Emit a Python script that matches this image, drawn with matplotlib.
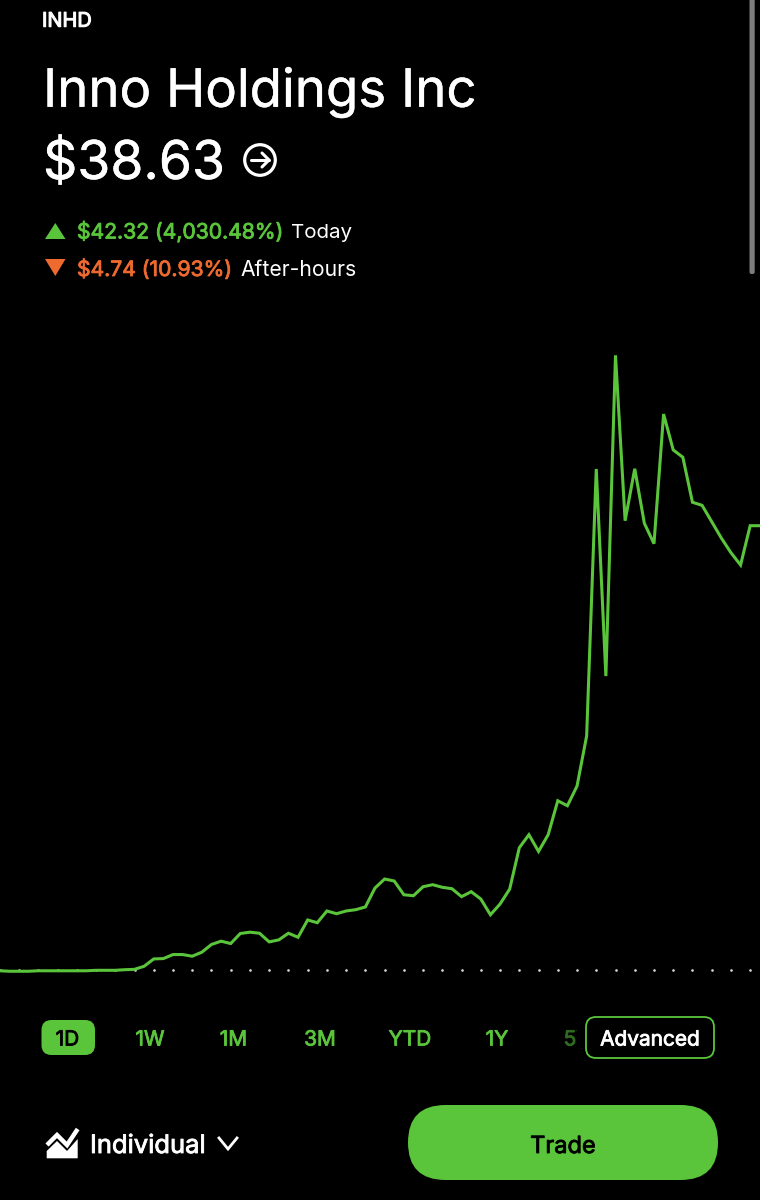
import matplotlib
matplotlib.use("Agg")
import matplotlib.pyplot as plt
from matplotlib.patches import FancyBboxPatch, Polygon, Circle, Rectangle
import matplotlib.patheffects as pe
import numpy as np

# ---- data ----
ticker = "INHD"
company = "Inno Holdings Inc"
price_label = "$38.63"
today_change = "$42.32 (4,030.48%)"
today_label = "Today"
after_change = "$4.74 (10.93%)"
after_label = "After-hours"
ranges = ["1W", "1M", "3M", "YTD", "1Y"]
active_range = "1D"
clipped_range = "5Y"
account = "Individual"
prev_close = 1.05
prices = [
    1.01, 0.97, 0.97, 0.97, 1.01, 1.01, 1.01, 1.01, 1.01, 1.01, 1.05, 1.05, 1.05, 1.10,
    1.13, 1.39, 2.01, 2.04, 2.38, 2.38, 2.24, 2.58, 3.23, 3.51, 3.31, 4.16, 4.27, 4.18,
    3.45, 3.62, 4.18, 3.84, 5.30, 5.07, 6.06, 5.83, 6.06, 6.17, 6.40, 8.00, 8.76, 8.59,
    7.43, 7.35, 8.11, 8.28, 8.06, 7.94, 7.27, 7.69, 7.07, 5.74, 6.65, 7.91, 11.40, 12.50,
    11.09, 12.50, 15.37, 14.95, 16.61, 20.84, 43.39, 25.90, 52.99, 39.02, 43.41, 38.80,
    37.08, 48.03, 45.00, 44.38, 40.58, 40.32, 38.94, 37.56, 36.32, 35.28, 38.60, 38.60,
]

GREEN = "#5AC53B"
ORANGE = "#EE6A2F"
FONT = "Inter"
plt.rcParams["font.family"] = [FONT, "DejaVu Sans"]

W, H = 760, 1200
fig = plt.figure(figsize=(W / 100, H / 100), dpi=100, facecolor="black")

# ---- price chart ----
top, bottom = 340, 985
ax = fig.add_axes([0, 1 - bottom / H, 1, (bottom - top) / H], facecolor="black")
ax.set_axis_off()
px_per_dollar = 11.84
base_px = 970.3
ax.set_ylim(prev_close - (bottom - base_px) / px_per_dollar,
            prev_close + (base_px - top) / px_per_dollar)
step = 9.62
first = 134.5 - 14 * step
ax.set_xlim(-first / step, (W - first) / step)
idx = np.arange(len(prices))
ax.plot(idx[::2], [prev_close] * len(idx[::2]), ls="none", marker="o", ms=1.9,
        color="#d8d8d8", mew=0, zorder=1)
ax.plot(idx, prices, color=GREEN, lw=2.2, solid_joinstyle="miter", zorder=2)

# ---- interface layer in pixel coordinates ----
ui = fig.add_axes([0, 0, 1, 1], facecolor="none")
ui.set_axis_off()
ui.set_xlim(0, W)
ui.set_ylim(H, 0)


def label(x, y, s, size, color="white", bold=0.0, ha="left", zorder=3):
    t = ui.text(x, y, s, fontsize=size, color=color, ha=ha, va="baseline", zorder=zorder)
    if bold:
        t.set_path_effects([pe.withStroke(linewidth=bold, foreground=color)])
    return t


label(42, 26.7, ticker, 14.4, bold=0.8)
label(43, 106.7, company, 38, bold=0.3)
label(43, 179, price_label, 38.5, bold=0.3)
ui.add_patch(Circle((260, 160), 15.3, fc="none", ec="white", lw=2.3))
ui.plot([251, 269], [160, 160], color="white", lw=2.2, solid_capstyle="round")
ui.plot([262, 269, 262], [153, 160, 167], color="white", lw=2.2, solid_capstyle="round",
        solid_joinstyle="round")

ui.add_patch(Polygon([(45, 239), (65.5, 239), (55.3, 223)], fc=GREEN, ec="none"))
label(77, 238.5, today_change, 15.2, GREEN, bold=0.6)
label(291.5, 238.5, today_label, 14.8)
ui.add_patch(Polygon([(45, 259), (65.5, 259), (55.3, 276)], fc=ORANGE, ec="none"))
label(77, 276, after_change, 15.2, ORANGE, bold=0.6)
label(240, 276, after_label, 15.2)

# scroll indicator
ui.add_patch(FancyBboxPatch((749.5, -10), 5.2, 284, boxstyle="round,pad=0,rounding_size=2",
                            fc="#7c7c7c", ec="none"))

# range selector
ui.add_patch(FancyBboxPatch((41.5, 1020), 53.5, 35, boxstyle="round,pad=0,rounding_size=10",
                            fc=GREEN, ec="none"))
label(67.5, 1045.5, active_range, 15, "black", 0.6, "center")
for x, s in zip([150, 233.5, 320, 410, 497], ranges):
    label(x, 1045.5, s, 15, GREEN, 0.6, "center")
label(577, 1045.5, clipped_range, 15, "#2f6b20", 0.6, "center")
ui.add_patch(Rectangle((576.5, 1025), 10, 26, fc="black", ec="none", zorder=3.5))
ui.add_patch(FancyBboxPatch((586, 1017), 128, 41, boxstyle="round,pad=0,rounding_size=10",
                            fc="black", ec=GREEN, lw=1.3, zorder=4))
label(650, 1045.5, "Advanced", 15, "white", 0.6, "center", zorder=5)

# account selector
ui.add_patch(Polygon([(46.7, 1158.3), (46.7, 1151), (57, 1141), (67, 1151), (77.7, 1139),
                      (77.7, 1158.3)], fc="white", ec="none"))
ui.plot([47, 57, 67, 77.7], [1145, 1135, 1145, 1129], color="white", lw=3.2,
        solid_joinstyle="miter", solid_capstyle="butt")
label(90, 1153, account, 18.4, "white", 0.6)
ui.plot([219, 228, 237], [1138, 1149, 1138], color="white", lw=2, solid_joinstyle="miter")

# trade button
ui.add_patch(FancyBboxPatch((408, 1105), 310, 75, boxstyle="round,pad=0,rounding_size=37.5",
                            fc=GREEN, ec="none"))
label(563, 1153, "Trade", 17, "black", 0.6, "center")

fig.savefig("out.png", dpi=100, facecolor="black")
